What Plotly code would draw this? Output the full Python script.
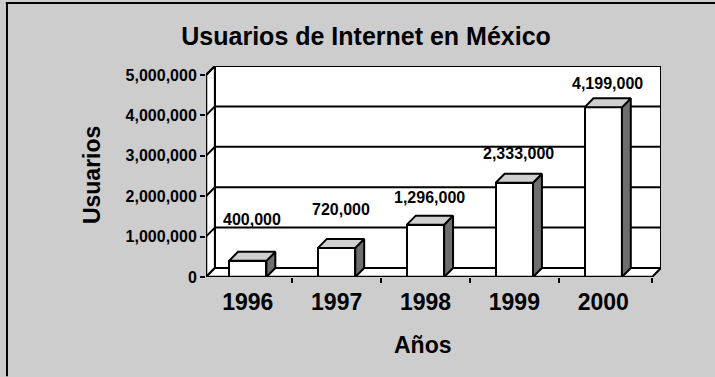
import plotly.graph_objects as go

# ---- data ----
years = ["1996", "1997", "1998", "1999", "2000"]
users = [400000, 720000, 1296000, 2333000, 4199000]
label_text = ["400,000", "720,000", "1,296,000", "2,333,000", "4,199,000"]
y_ticks = [0, 1000000, 2000000, 3000000, 4000000, 5000000]
y_tick_text = ["0", "1,000,000", "2,000,000", "3,000,000", "4,000,000", "5,000,000"]

# ---- style ----
label_yshift = [32, 29, 18, 20, 15]   # pixel offsets of value labels above bars
W = 0.42          # bar width (category units)
DX = 0.10         # depth offset in x (category units)
DY = 223000       # depth offset in y (value units)
XL, XR = -0.47, 4.55
YTOP = 5000000
FONT = "Liberation Sans, Arial, sans-serif"

idx = list(range(len(years)))
fig = go.Figure()

# front faces
fig.add_trace(go.Bar(x=idx, y=users, width=W,
                     marker=dict(color="white", line=dict(color="black", width=2)),
                     hoverinfo="skip", showlegend=False))

# side and top faces
for c, v in zip(idx, users):
    r = c + W / 2
    l = c - W / 2
    fig.add_trace(go.Scatter(x=[r, r + DX, r + DX, r, r], y=[0, DY, v + DY, v, 0],
                             fill="toself", fillcolor="#6e6e6e", mode="lines",
                             line=dict(color="black", width=2), hoverinfo="skip", showlegend=False))
    fig.add_trace(go.Scatter(x=[l, l + DX, r + DX, r, l], y=[v, v + DY, v + DY, v, v],
                             fill="toself", fillcolor="#cfcfcf", mode="lines",
                             line=dict(color="black", width=2), hoverinfo="skip", showlegend=False))

shapes = []
# back wall
shapes.append(dict(type="rect", xref="x", yref="y", x0=XL + DX, x1=XR + DX, y0=DY, y1=YTOP + DY,
                   fillcolor="white", line=dict(color="black", width=2), layer="below"))
# left wall
shapes.append(dict(type="path", xref="x", yref="y",
                   path=f"M {XL},0 L {XL+DX},{DY} L {XL+DX},{YTOP+DY} L {XL},{YTOP} Z",
                   fillcolor="white", line=dict(color="black", width=2), layer="below"))
# floor
shapes.append(dict(type="path", xref="x", yref="y",
                   path=f"M {XL},0 L {XL+DX},{DY} L {XR+DX},{DY} L {XR},0 Z",
                   fillcolor="white", line=dict(color="black", width=2), layer="below"))
# grid lines on back wall and left wall
for t in y_ticks[1:-1]:
    shapes.append(dict(type="line", xref="x", yref="y", x0=XL + DX, x1=XR + DX, y0=t + DY, y1=t + DY,
                       line=dict(color="black", width=2), layer="below"))
for t in y_ticks[1:]:
    shapes.append(dict(type="line", xref="x", yref="y", x0=XL, x1=XL + DX, y0=t, y1=t + DY,
                       line=dict(color="black", width=2), layer="below"))
# front axis lines
shapes.append(dict(type="line", xref="x", yref="y", x0=XL, x1=XL, y0=0, y1=YTOP,
                   line=dict(color="black", width=2.5)))
shapes.append(dict(type="line", xref="x", yref="y", x0=XL, x1=XR, y0=0, y1=0,
                   line=dict(color="black", width=2.5)))
# page frame (scan edge)
shapes.append(dict(type="line", xref="paper", yref="paper", x0=-0.44, x1=1.15, y0=1.2986, y1=1.2986,
                   line=dict(color="black", width=2)))
shapes.append(dict(type="line", xref="paper", yref="paper", x0=-0.4374, x1=-0.4374, y0=-0.47, y1=1.2986,
                   line=dict(color="black", width=2)))

annotations = []
for c, v, t, s in zip(idx, users, label_text, label_yshift):
    annotations.append(dict(x=c + DX / 2, y=v + DY, xref="x", yref="y", text=f"<b>{t}</b>",
                            showarrow=False, yshift=s, xanchor="center", yanchor="middle",
                            font=dict(family=FONT, size=16, color="black")))
annotations.append(dict(x=0.477, y=-0.322, xref="paper", yref="paper", text="<b>Años</b>",
                        xanchor="center", yanchor="middle",
                        showarrow=False, font=dict(family=FONT, size=23, color="black")))
annotations.append(dict(x=-0.2505, y=0.483, xref="paper", yref="paper", text="<b>Usuarios</b>",
                        xanchor="center", yanchor="middle",
                        textangle=-90, showarrow=False, font=dict(family=FONT, size=23, color="black")))

fig.update_layout(
    width=715, height=377,
    margin=dict(l=206, r=54, t=66, b=100),
    paper_bgcolor="#cdcdcd", plot_bgcolor="rgba(0,0,0,0)",
    title=dict(text="<b>Usuarios de Internet en México</b>", x=0.512, xref="container",
               y=0.9045, yref="container", xanchor="center", yanchor="middle",
               font=dict(family=FONT, size=25, color="black")),
    shapes=shapes, annotations=annotations,
    showlegend=False, bargap=0,
    xaxis=dict(range=[XL, XR + DX], tickvals=idx, ticktext=[f"<b>{y}</b>" for y in years],
               showgrid=False, zeroline=False, showline=False, ticks="",
               tickfont=dict(family=FONT, size=23, color="black"), ticklabelstandoff=9,
               minor=dict(tickvals=[0.5, 1.5, 2.5, 3.5, XR], ticks="outside", ticklen=5,
                          tickwidth=2, tickcolor="black", showgrid=False),
               fixedrange=True),
    yaxis=dict(range=[0, YTOP + DY], tickvals=y_ticks, ticktext=[f"<b>{t}</b>" for t in y_tick_text],
               showgrid=False, zeroline=False, showline=False, ticks="outside", ticklen=5,
               tickwidth=2, tickcolor="black",
               tickfont=dict(family=FONT, size=16, color="black"), fixedrange=True),
)

fig.write_html("out.html")
